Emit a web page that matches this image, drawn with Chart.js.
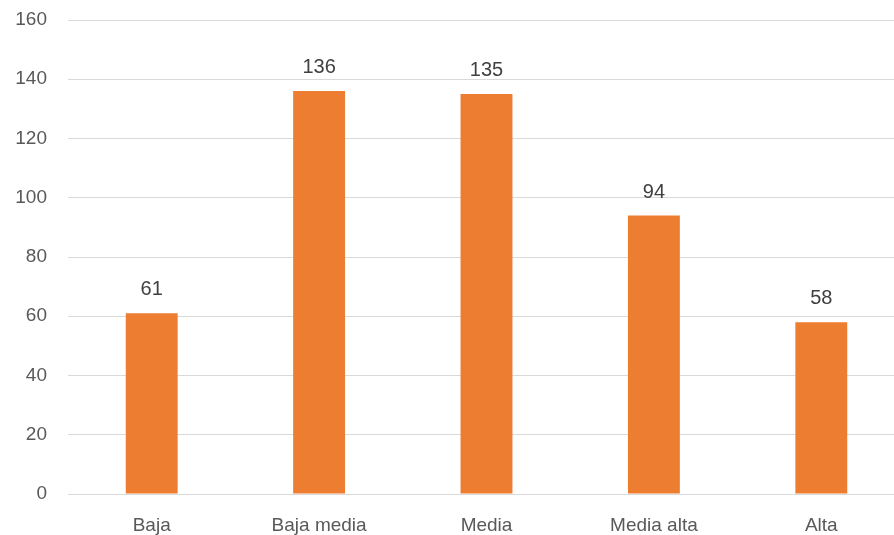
<!DOCTYPE html>
<html>
<head>
<meta charset="utf-8">
<script src="https://cdn.jsdelivr.net/npm/chart.js@4/dist/chart.umd.min.js"></script>
<style>
  html, body { margin: 0; padding: 0; background: #fff; overflow: hidden; }
  #wrap { width: 905px; height: 535px; }
</style>
</head>
<body>
<div id="wrap"><canvas id="chart"></canvas></div>
<script>
const categorias = ["Baja", "Baja media", "Media", "Media alta", "Alta"]
const valores = [61, 136, 135, 94, 58]
const yMin = 0
const yMax = 160
const yPaso = 20

// etiquetas de valor encima de cada barra
const etiquetas = {
    id: 'etiquetas',
    afterDatasetsDraw(chart) {
        const ctx = chart.ctx
        ctx.save()
        ctx.font = '20px "Liberation Sans", Arial, sans-serif'
        ctx.fillStyle = '#404040'
        ctx.textAlign = 'center'
        ctx.textBaseline = 'alphabetic'
        chart.getDatasetMeta(0).data.forEach((bar, i) => {
            ctx.fillText(valores[i], bar.x, bar.y - 18)
        })
        ctx.restore()
    }
}

const canvas = document.querySelector("#chart")

const config = {
    type: 'bar',
    data: {
        labels: categorias,
        datasets: [{
            data: valores,
            backgroundColor: '#ED7D31',
            borderWidth: 0,
            categoryPercentage: 1,
            barPercentage: 0.31
        }]
    },
    options: {
        responsive: true,
        maintainAspectRatio: false,
        animation: false,
        layout: { padding: { top: 20, right: 0, bottom: 0, left: 0 } },
        plugins: {
            legend: { display: false },
            tooltip: { enabled: false }
        },
        scales: {
            x: {
                grid: { display: false, drawTicks: false },
                border: { display: true, color: '#d9d9d9', width: 1 },
                afterFit(scale) {
                    scale.height = 41
                    scale.paddingLeft = 0
                    scale.paddingRight = 0
                },
                ticks: {
                    color: '#595959',
                    padding: 20,
                    maxRotation: 0,
                    font: { family: '"Liberation Sans", Arial, sans-serif', size: 19 }
                }
            },
            y: {
                min: yMin,
                max: yMax,
                grid: { color: '#d9d9d9', drawTicks: false },
                border: { display: false },
                afterFit(scale) {
                    scale.width = 68
                    scale.paddingTop = 0
                    scale.paddingBottom = 0
                },
                ticks: {
                    stepSize: yPaso,
                    color: '#595959',
                    padding: 21,
                    font: { family: '"Liberation Sans", Arial, sans-serif', size: 19 }
                }
            }
        }
    },
    plugins: [etiquetas]
}

const grafico = new Chart(canvas, config)
</script>
</body>
</html>
